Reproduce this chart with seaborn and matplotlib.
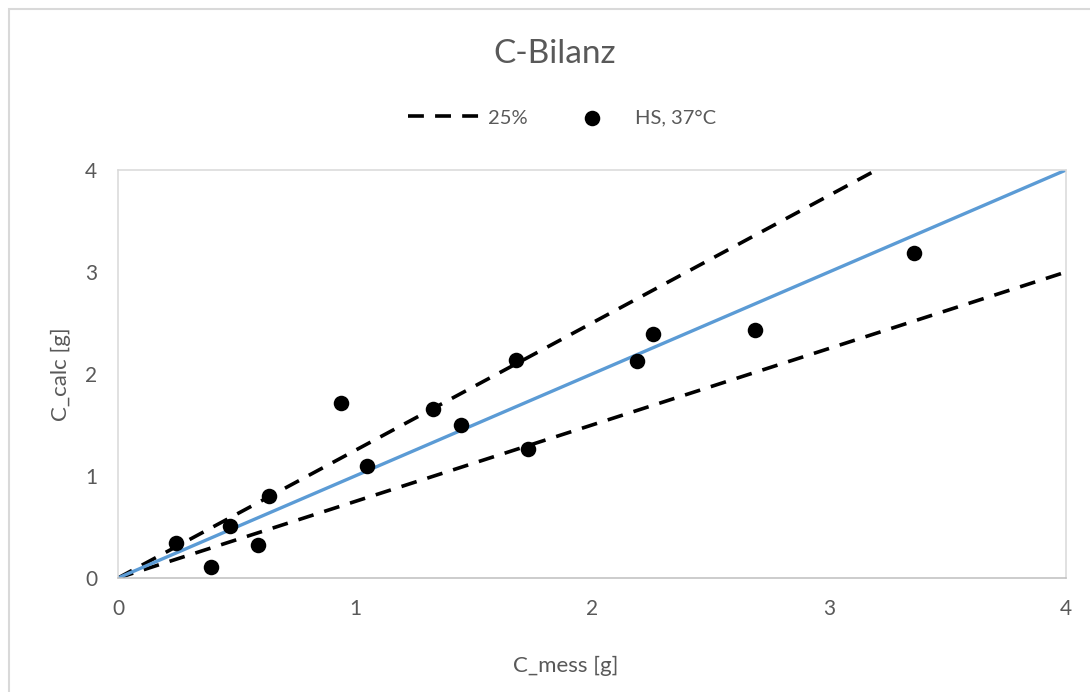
import pandas as pd
import matplotlib.pyplot as plt
import seaborn as sns
from matplotlib.patches import Rectangle

c_mess = [0.245, 0.391, 0.473, 0.590, 0.638, 0.942, 1.050, 1.328, 1.446,
          1.681, 1.730, 2.188, 2.257, 2.688, 3.359]
c_calc = [0.346, 0.105, 0.510, 0.323, 0.807, 1.719, 1.101, 1.657, 1.500,
          2.137, 1.268, 2.131, 2.395, 2.431, 3.183]

# Bezugslinien: 1:1 und +/- 25 %
linie_x = [0, 4]
faktor_ideal = 1.0
faktor_oben = 1.25
faktor_unten = 0.75

achsen_ticks = [0, 1, 2, 3, 4]

df_punkte = pd.DataFrame({'C_mess': c_mess, 'C_calc': c_calc})
df_ideal = pd.DataFrame({'x': linie_x, 'y': [v * faktor_ideal for v in linie_x]})
df_oben = pd.DataFrame({'x': linie_x, 'y': [v * faktor_oben for v in linie_x]})
df_unten = pd.DataFrame({'x': linie_x, 'y': [v * faktor_unten for v in linie_x]})

sns.set_theme(style="white")
plt.rcParams['font.family'] = ['Lato', 'DejaVu Sans']

grau_text = '#595959'
grau_linie = '#D9D9D9'
strich = (0, (4.4, 3.1))

fig = plt.figure(figsize=(10.9, 6.92), dpi=100)
ax = fig.add_axes([118 / 1090, 1 - 578 / 692, (1066 - 118) / 1090, (578 - 170) / 692])

sns.lineplot(data=df_oben, x='x', y='y', ax=ax, color='black', lw=2.6,
             linestyle=strich, label='25%', zorder=2)
sns.lineplot(data=df_unten, x='x', y='y', ax=ax, color='black', lw=2.6,
             linestyle=strich, zorder=2)
sns.lineplot(data=df_ideal, x='x', y='y', ax=ax, color='#5B9BD5', lw=2.4, zorder=2)
sns.scatterplot(data=df_punkte, x='C_mess', y='C_calc', ax=ax, color='black',
                s=125, linewidth=0, label='HS, 37°C', zorder=3)

ax.set_xlim(0, 4)
ax.set_ylim(0, 4)
ax.set_xticks(achsen_ticks)
ax.set_yticks(achsen_ticks)
ax.tick_params(direction='in', length=5, width=1.1, color=grau_linie,
               labelcolor=grau_text, labelsize=15, pad=15)
ax.set_xlabel('')
ax.set_ylabel('')
for s in ax.spines.values():
    s.set_color(grau_linie)
    s.set_linewidth(1.1)
ax.spines['bottom'].set_color('#BFBFBF')

handles, labels = ax.get_legend_handles_labels()
ax.get_legend().remove()
fig.legend(handles, labels, loc='center', ncol=2, frameon=False,
           bbox_to_anchor=(562 / 1090, 1 - 118 / 692), fontsize=14.5,
           handlelength=3.6, handletextpad=0.35, columnspacing=1.4,
           labelcolor=grau_text)

fig.text(555 / 1090, 1 - 54 / 692, 'C-Bilanz', ha='center', va='center',
         fontsize=24, color=grau_text)
fig.text(566 / 1090, 1 - 666 / 692, 'C_mess [g]', ha='center', va='center',
         fontsize=16, color=grau_text)
fig.text(61 / 1090, 1 - 374 / 692, 'C_calc [g]', ha='center', va='center',
         fontsize=16, color=grau_text, rotation=90)

# Rahmen des Diagrammbereichs
fig.patches.append(Rectangle((8.5 / 1090, -0.1), 2, 1.1 - 9 / 692, fill=False,
                             edgecolor=grau_linie, lw=1.5,
                             transform=fig.transFigure, figure=fig))

fig.savefig('out.png', dpi=100)
